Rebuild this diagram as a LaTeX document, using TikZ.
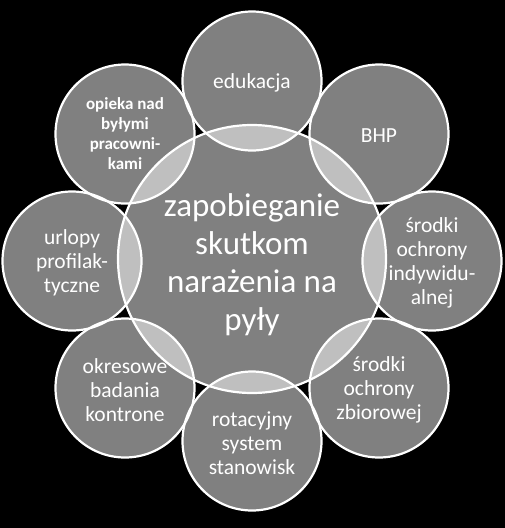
\documentclass[tikz,border=0pt]{standalone}
\usepackage{fontspec}
\setmainfont{Carlito}
\usepackage{tikz}
\usetikzlibrary{positioning}
\tikzset{
	block/.style={draw=white, line width=2.2pt, circle, fill=white, fill opacity=0.5, inner sep=0pt},
	satellite/.style={block, minimum size=139pt},
	hub/.style={block, minimum size=268pt},
	caption/.style={align=center, text=white, yshift=-2pt, font=\fontsize{21.5}{24}\selectfont},
	smallcaption/.style={align=center, text=white, font=\fontsize{17}{20}\selectfont\bfseries},
	bigcaption/.style={align=center, text=white, font=\fontsize{33}{38}\selectfont}
}

\begin{document}
\begin{tikzpicture}[x=1pt, y=-1pt]
		% Background
		\fill[black] (0,0) rectangle (505,528);
		\useasboundingbox (0,0) rectangle (505,528);
		
		% Top
		\node[satellite] (edukacja) at (252,81) {};
		\node[caption] at (edukacja) {edukacja};
		
		% Top right
		\node[satellite] (bhp) at (379,134) {};
		\node[caption] at (bhp) {BHP};
		
		% Right
		\node[satellite] (indywidualne) at (432,261) {};
		\node[caption] at (indywidualne) {środki\\ochrony\\indywidu-\\alnej};
		
		% Bottom right
		\node[satellite] (zbiorowe) at (379,388) {};
		\node[caption] at (zbiorowe) {środki\\ochrony\\zbiorowej};
		
		% Bottom
		\node[satellite] (rotacja) at (252,441) {};
		\node[caption] at (rotacja) {rotacyjny\\system\\stanowisk};
		
		% Bottom left
		\node[satellite] (badania) at (125,388) {};
		\node[caption] at (badania) {okresowe\\badania\\kontrone};
		
		% Left
		\node[satellite] (urlopy) at (72,261) {};
		\node[caption] at (urlopy) {urlopy\\profilak-\\tyczne};
		
		% Top left
		\node[satellite] (opieka) at (125,134) {};
		\node[smallcaption] at (opieka) {opieka nad\\byłymi\\pracowni-\\kami};
		
		% Centre
		\node[hub] (zapobieganie) at (252,259) {};
		\node[bigcaption] at ([yshift=-6pt]zapobieganie.center) {zapobieganie\\skutkom\\narażenia na\\pyły};
	\end{tikzpicture}
\end{document}
